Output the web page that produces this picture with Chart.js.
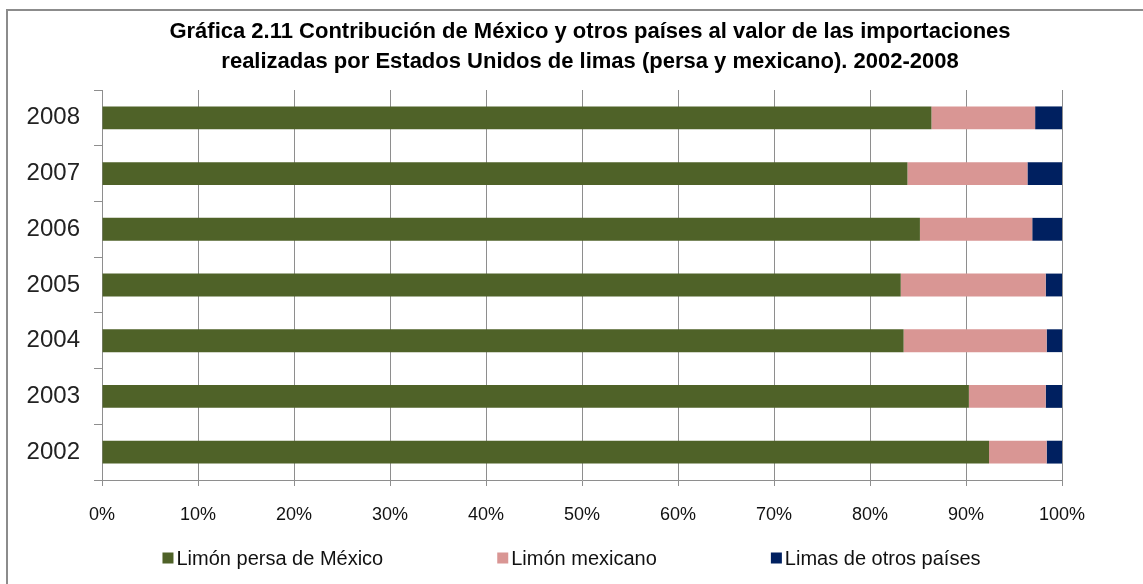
<!DOCTYPE html>
<html>
<head>
<meta charset="utf-8">
<script src="https://cdn.jsdelivr.net/npm/chart.js@4.4.0/dist/chart.umd.min.js"></script>
<style>
html, body { margin: 0; padding: 0; background: #fff; }
#wrap { position: relative; width: 1143px; height: 584px; overflow: hidden; }
#frame { position: absolute; left: 6px; top: 9px; width: 1200px; height: 700px; border-left: 2px solid #8c8c8c; border-top: 2px solid #8c8c8c; }
canvas { position: absolute; left: 0; top: 0; }
</style>
</head>
<body>
<div id="wrap">
  <div id="frame"></div>
  <canvas id="myChart" width="1143" height="584"></canvas>
</div>
<script>
// DATA (percent of import value)
const years = ["2008", "2007", "2006", "2005", "2004", "2003", "2002"];
const persaMexico = [86.4, 83.9, 85.2, 83.2, 83.5, 90.3, 92.4];
const limonMexicano = [10.8, 12.5, 11.7, 15.1, 14.9, 8.0, 6.0];
const otrosPaises = [2.8, 3.6, 3.1, 1.7, 1.6, 1.7, 1.6];
const seriesNames = ["Limón persa de México", "Limón mexicano", "Limas de otros países"];
const titleLines = [
    "Gráfica 2.11 Contribución de México y otros países al valor de las importaciones",
    "realizadas por Estados Unidos de limas (persa y mexicano). 2002-2008"
];

const gridGray = "#8e8e8e";
const colors = ["#4f6228", "#d99694", "#002060"];

// title + legend drawn by hand: the original title is off-centre and the
// legend items sit far apart, which the built-in plugins can't do
const textBits = {
    id: "textBits",
    afterDraw(chart) {
        const ctx = chart.ctx;
        ctx.save();

        // title
        ctx.font = 'bold 22px "Liberation Sans"';
        ctx.fillStyle = "#000";
        ctx.textAlign = "center";
        ctx.textBaseline = "middle";
        ctx.fillText(titleLines[0], 590, 32);
        ctx.fillText(titleLines[1], 590, 62);

        // legend
        const sets = chart.data.datasets;
        const box = 11, gapText = 3, gapItem = 114;
        ctx.font = '20px "Liberation Sans"';
        ctx.textAlign = "left";
        const widths = sets.map(d => box + gapText + ctx.measureText(d.label).width);
        const total = widths.reduce((a, b) => a + b, 0) + gapItem * (sets.length - 1);
        let x = (chart.width - total) / 2;
        const y = 558;
        sets.forEach((d, i) => {
            ctx.fillStyle = d.backgroundColor;
            ctx.fillRect(x, y - box / 2, box, box);
            ctx.fillStyle = "#111";
            ctx.fillText(d.label, x + box + gapText, y + 1);
            x += widths[i] + gapItem;
        });
        ctx.restore();
    }
};

const data1 = {
    labels: years,
    datasets: [
        { label: seriesNames[0], data: persaMexico, backgroundColor: colors[0] },
        { label: seriesNames[1], data: limonMexicano, backgroundColor: colors[1] },
        { label: seriesNames[2], data: otrosPaises, backgroundColor: colors[2] }
    ]
};

const config = {
    type: "bar",
    data: data1,
    options: {
        indexAxis: "y",
        responsive: false,
        animation: false,
        layout: { padding: { left: 0, right: 81, top: 90, bottom: 54 } },
        datasets: { bar: { barPercentage: 0.41, categoryPercentage: 1 } },
        plugins: {
            legend: { display: false },
            tooltip: { enabled: false },
            title: { display: false }
        },
        scales: {
            x: {
                stacked: true,
                min: 0,
                max: 100,
                ticks: {
                    stepSize: 10,
                    callback: v => v + "%",
                    color: "#111",
                    font: { family: "Liberation Sans", size: 18 },
                    padding: 18,
                    maxRotation: 0
                },
                grid: { color: gridGray, tickLength: 6 },
                border: { color: gridGray },
                afterFit: s => { s.height = 50; }
            },
            y: {
                stacked: true,
                ticks: {
                    color: "#222",
                    font: { family: "Liberation Sans", size: 24 },
                    padding: 14
                },
                grid: { offset: true, drawOnChartArea: false, color: gridGray, tickLength: 8 },
                border: { color: gridGray },
                afterFit: s => { s.width = 102; }
            }
        }
    },
    plugins: [textBits]
};

var myChart = new Chart(document.querySelector("#myChart"), config);
</script>
</body>
</html>
